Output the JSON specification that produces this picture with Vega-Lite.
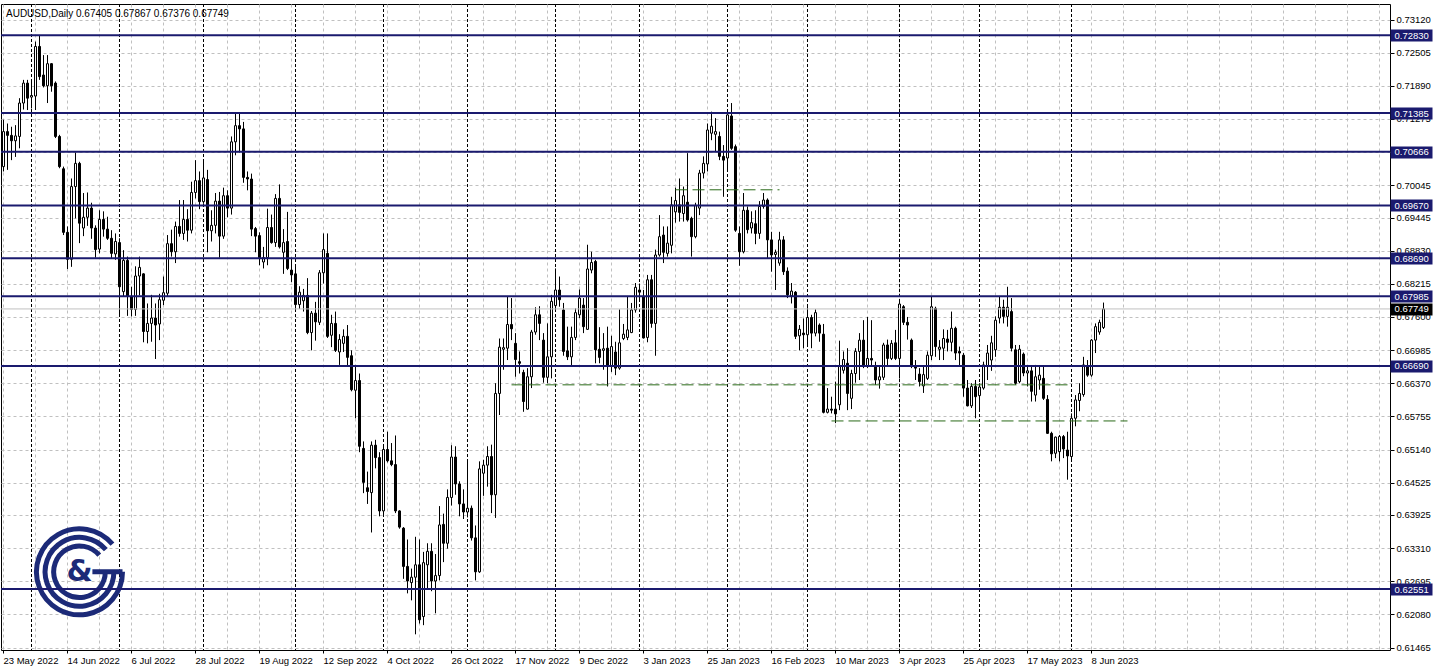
{
  "$schema": "https://vega.github.io/schema/vega-lite/v6.json",
  "width": 1389,
  "height": 646,
  "autosize": {"type": "none"},
  "padding": {"left": 1, "top": 4, "right": 48, "bottom": 21},
  "background": "white",
  "title": {"text": "AUDUSD,Daily  0.67405 0.67867 0.67376 0.67749", "anchor": "start", "frame": "group", "orient": "top", "offset": -15, "dx": 5, "font": "Liberation Sans", "fontSize": 10, "fontWeight": "normal", "color": "black"},
  "config": {
    "view": {"stroke": "black", "strokeWidth": 1},
    "font": "Liberation Sans",
    "axis": {"labelFont": "Liberation Sans", "labelFontSize": 9.5, "labelColor": "black", "titleFont": "Liberation Sans"}
  },
  "datasets": {
    "candles": [
      {"d":"2022-05-23","o":0.7039,"h":0.7126,"l":0.7030,"c":0.7104},
      {"d":"2022-05-24","o":0.7104,"h":0.7119,"l":0.7033,"c":0.7097},
      {"d":"2022-05-25","o":0.7097,"h":0.7113,"l":0.7051,"c":0.7087},
      {"d":"2022-05-26","o":0.7087,"h":0.7116,"l":0.7057,"c":0.7096},
      {"d":"2022-05-27","o":0.7095,"h":0.7166,"l":0.7073,"c":0.7157},
      {"d":"2022-05-30","o":0.7157,"h":0.7200,"l":0.7145,"c":0.7194},
      {"d":"2022-05-31","o":0.7194,"h":0.7200,"l":0.7144,"c":0.7166},
      {"d":"2022-06-01","o":0.7168,"h":0.7197,"l":0.7147,"c":0.7171},
      {"d":"2022-06-02","o":0.7170,"h":0.7271,"l":0.7144,"c":0.7262},
      {"d":"2022-06-03","o":0.7262,"h":0.7283,"l":0.7200,"c":0.7206},
      {"d":"2022-06-06","o":0.7209,"h":0.7246,"l":0.7186,"c":0.7189},
      {"d":"2022-06-07","o":0.7189,"h":0.7246,"l":0.7157,"c":0.7230},
      {"d":"2022-06-08","o":0.7230,"h":0.7231,"l":0.7178,"c":0.7189},
      {"d":"2022-06-09","o":0.7194,"h":0.7197,"l":0.7092,"c":0.7095},
      {"d":"2022-06-10","o":0.7095,"h":0.7098,"l":0.7036,"c":0.7039},
      {"d":"2022-06-13","o":0.7035,"h":0.7039,"l":0.6912,"c":0.6917},
      {"d":"2022-06-14","o":0.6917,"h":0.6928,"l":0.6849,"c":0.6867},
      {"d":"2022-06-15","o":0.6867,"h":0.7017,"l":0.6853,"c":0.7002},
      {"d":"2022-06-16","o":0.7002,"h":0.7065,"l":0.6943,"c":0.7045},
      {"d":"2022-06-17","o":0.7045,"h":0.7048,"l":0.6897,"c":0.6934},
      {"d":"2022-06-20","o":0.6925,"h":0.6990,"l":0.6910,"c":0.6945},
      {"d":"2022-06-21","o":0.6945,"h":0.6991,"l":0.6929,"c":0.6962},
      {"d":"2022-06-22","o":0.6962,"h":0.6972,"l":0.6905,"c":0.6925},
      {"d":"2022-06-23","o":0.6925,"h":0.6930,"l":0.6870,"c":0.6885},
      {"d":"2022-06-24","o":0.6886,"h":0.6958,"l":0.6878,"c":0.6941},
      {"d":"2022-06-27","o":0.6941,"h":0.6956,"l":0.6909,"c":0.6923},
      {"d":"2022-06-28","o":0.6923,"h":0.6946,"l":0.6903,"c":0.6906},
      {"d":"2022-06-29","o":0.6906,"h":0.6921,"l":0.6869,"c":0.6878},
      {"d":"2022-06-30","o":0.6877,"h":0.6915,"l":0.6866,"c":0.6900},
      {"d":"2022-07-01","o":0.6898,"h":0.6906,"l":0.6761,"c":0.6816},
      {"d":"2022-07-04","o":0.6807,"h":0.6884,"l":0.6798,"c":0.6865},
      {"d":"2022-07-05","o":0.6865,"h":0.6872,"l":0.6762,"c":0.6798},
      {"d":"2022-07-06","o":0.6798,"h":0.6816,"l":0.6761,"c":0.6774},
      {"d":"2022-07-07","o":0.6774,"h":0.6854,"l":0.6762,"c":0.6836},
      {"d":"2022-07-08","o":0.6836,"h":0.6872,"l":0.6800,"c":0.6852},
      {"d":"2022-07-11","o":0.6840,"h":0.6841,"l":0.6713,"c":0.6733},
      {"d":"2022-07-12","o":0.6733,"h":0.6785,"l":0.6711,"c":0.6748},
      {"d":"2022-07-13","o":0.6748,"h":0.6801,"l":0.6714,"c":0.6758},
      {"d":"2022-07-14","o":0.6758,"h":0.6785,"l":0.6682,"c":0.6745},
      {"d":"2022-07-15","o":0.6747,"h":0.6803,"l":0.6717,"c":0.6792},
      {"d":"2022-07-18","o":0.6791,"h":0.6835,"l":0.6782,"c":0.6805},
      {"d":"2022-07-19","o":0.6804,"h":0.6912,"l":0.6798,"c":0.6896},
      {"d":"2022-07-20","o":0.6896,"h":0.6922,"l":0.6872,"c":0.6881},
      {"d":"2022-07-21","o":0.6881,"h":0.6937,"l":0.6860,"c":0.6928},
      {"d":"2022-07-22","o":0.6928,"h":0.6977,"l":0.6909,"c":0.6915},
      {"d":"2022-07-25","o":0.6915,"h":0.6977,"l":0.6903,"c":0.6941},
      {"d":"2022-07-26","o":0.6941,"h":0.6960,"l":0.6900,"c":0.6921},
      {"d":"2022-07-27","o":0.6921,"h":0.7011,"l":0.6915,"c":0.6991},
      {"d":"2022-07-28","o":0.6991,"h":0.7051,"l":0.6980,"c":0.7013},
      {"d":"2022-07-29","o":0.7013,"h":0.7030,"l":0.6960,"c":0.6974},
      {"d":"2022-08-01","o":0.6974,"h":0.7048,"l":0.6970,"c":0.7018},
      {"d":"2022-08-02","o":0.7015,"h":0.7033,"l":0.6880,"c":0.6920},
      {"d":"2022-08-03","o":0.6920,"h":0.6958,"l":0.6900,"c":0.6930},
      {"d":"2022-08-04","o":0.6930,"h":0.6990,"l":0.6915,"c":0.6975},
      {"d":"2022-08-05","o":0.6975,"h":0.6992,"l":0.6870,"c":0.6910},
      {"d":"2022-08-08","o":0.6910,"h":0.7000,"l":0.6905,"c":0.6985},
      {"d":"2022-08-09","o":0.6985,"h":0.6995,"l":0.6945,"c":0.6962},
      {"d":"2022-08-10","o":0.6962,"h":0.7095,"l":0.6950,"c":0.7085},
      {"d":"2022-08-11","o":0.7085,"h":0.7137,"l":0.7060,"c":0.7115},
      {"d":"2022-08-12","o":0.7115,"h":0.7138,"l":0.7065,"c":0.7109},
      {"d":"2022-08-15","o":0.7109,"h":0.7122,"l":0.7009,"c":0.7019},
      {"d":"2022-08-16","o":0.7019,"h":0.7030,"l":0.6995,"c":0.7016},
      {"d":"2022-08-17","o":0.7016,"h":0.7026,"l":0.6910,"c":0.6923},
      {"d":"2022-08-18","o":0.6924,"h":0.6927,"l":0.6880,"c":0.6910},
      {"d":"2022-08-19","o":0.6911,"h":0.6917,"l":0.6856,"c":0.6870},
      {"d":"2022-08-22","o":0.6862,"h":0.6890,"l":0.6850,"c":0.6870},
      {"d":"2022-08-23","o":0.6870,"h":0.6961,"l":0.6856,"c":0.6926},
      {"d":"2022-08-24","o":0.6926,"h":0.6950,"l":0.6896,"c":0.6898},
      {"d":"2022-08-25","o":0.6898,"h":0.6988,"l":0.6890,"c":0.6980},
      {"d":"2022-08-26","o":0.6980,"h":0.7006,"l":0.6887,"c":0.6890},
      {"d":"2022-08-29","o":0.6880,"h":0.6923,"l":0.6840,"c":0.6898},
      {"d":"2022-08-30","o":0.6900,"h":0.6955,"l":0.6847,"c":0.6850},
      {"d":"2022-08-31","o":0.6847,"h":0.6870,"l":0.6825,"c":0.6838},
      {"d":"2022-09-01","o":0.6840,"h":0.6853,"l":0.6771,"c":0.6783},
      {"d":"2022-09-02","o":0.6783,"h":0.6817,"l":0.6775,"c":0.6806},
      {"d":"2022-09-05","o":0.6790,"h":0.6812,"l":0.6770,"c":0.6800},
      {"d":"2022-09-06","o":0.6800,"h":0.6832,"l":0.6728,"c":0.6731},
      {"d":"2022-09-07","o":0.6731,"h":0.6771,"l":0.6698,"c":0.6767},
      {"d":"2022-09-08","o":0.6767,"h":0.6788,"l":0.6716,"c":0.6751},
      {"d":"2022-09-09","o":0.6750,"h":0.6847,"l":0.6745,"c":0.6842},
      {"d":"2022-09-12","o":0.6842,"h":0.6915,"l":0.6822,"c":0.6885},
      {"d":"2022-09-13","o":0.6878,"h":0.6915,"l":0.6721,"c":0.6724},
      {"d":"2022-09-14","o":0.6726,"h":0.6764,"l":0.6704,"c":0.6748},
      {"d":"2022-09-15","o":0.6748,"h":0.6770,"l":0.6695,"c":0.6698},
      {"d":"2022-09-16","o":0.6695,"h":0.6728,"l":0.6671,"c":0.6718},
      {"d":"2022-09-19","o":0.6711,"h":0.6737,"l":0.6695,"c":0.6724},
      {"d":"2022-09-20","o":0.6724,"h":0.6745,"l":0.6668,"c":0.6685},
      {"d":"2022-09-21","o":0.6688,"h":0.6698,"l":0.6622,"c":0.6625},
      {"d":"2022-09-22","o":0.6624,"h":0.6671,"l":0.6572,"c":0.6642},
      {"d":"2022-09-23","o":0.6642,"h":0.6655,"l":0.6509,"c":0.6520},
      {"d":"2022-09-26","o":0.6516,"h":0.6529,"l":0.6433,"c":0.6453},
      {"d":"2022-09-27","o":0.6443,"h":0.6473,"l":0.6413,"c":0.6436},
      {"d":"2022-09-28","o":0.6434,"h":0.6529,"l":0.6360,"c":0.6522},
      {"d":"2022-09-29","o":0.6522,"h":0.6532,"l":0.6479,"c":0.6499},
      {"d":"2022-09-30","o":0.6499,"h":0.6509,"l":0.6390,"c":0.6400},
      {"d":"2022-10-03","o":0.6400,"h":0.6522,"l":0.6393,"c":0.6514},
      {"d":"2022-10-04","o":0.6514,"h":0.6547,"l":0.6490,"c":0.6493},
      {"d":"2022-10-05","o":0.6493,"h":0.6526,"l":0.6483,"c":0.6486},
      {"d":"2022-10-06","o":0.6486,"h":0.6540,"l":0.6396,"c":0.6400},
      {"d":"2022-10-07","o":0.6400,"h":0.6401,"l":0.6367,"c":0.6370},
      {"d":"2022-10-10","o":0.6368,"h":0.6370,"l":0.6274,"c":0.6297},
      {"d":"2022-10-11","o":0.6297,"h":0.6347,"l":0.6247,"c":0.6270},
      {"d":"2022-10-12","o":0.6267,"h":0.6293,"l":0.6234,"c":0.6277},
      {"d":"2022-10-13","o":0.6277,"h":0.6352,"l":0.6171,"c":0.6300},
      {"d":"2022-10-14","o":0.6300,"h":0.6347,"l":0.6191,"c":0.6198},
      {"d":"2022-10-17","o":0.6204,"h":0.6324,"l":0.6188,"c":0.6304},
      {"d":"2022-10-18","o":0.6300,"h":0.6340,"l":0.6254,"c":0.6325},
      {"d":"2022-10-19","o":0.6325,"h":0.6340,"l":0.6251,"c":0.6270},
      {"d":"2022-10-20","o":0.6270,"h":0.6320,"l":0.6210,"c":0.6280},
      {"d":"2022-10-21","o":0.6280,"h":0.6409,"l":0.6271,"c":0.6374},
      {"d":"2022-10-24","o":0.6375,"h":0.6395,"l":0.6305,"c":0.6340},
      {"d":"2022-10-25","o":0.6340,"h":0.6440,"l":0.6330,"c":0.6425},
      {"d":"2022-10-26","o":0.6425,"h":0.6522,"l":0.6410,"c":0.6500},
      {"d":"2022-10-27","o":0.6500,"h":0.6520,"l":0.6430,"c":0.6450},
      {"d":"2022-10-28","o":0.6450,"h":0.6455,"l":0.6390,"c":0.6413},
      {"d":"2022-10-31","o":0.6413,"h":0.6440,"l":0.6385,"c":0.6398},
      {"d":"2022-11-01","o":0.6398,"h":0.6492,"l":0.6388,"c":0.6405},
      {"d":"2022-11-02","o":0.6405,"h":0.6410,"l":0.6345,"c":0.6350},
      {"d":"2022-11-03","o":0.6350,"h":0.6373,"l":0.6271,"c":0.6287},
      {"d":"2022-11-04","o":0.6287,"h":0.6492,"l":0.6285,"c":0.6478},
      {"d":"2022-11-07","o":0.6470,"h":0.6495,"l":0.6428,"c":0.6485},
      {"d":"2022-11-08","o":0.6485,"h":0.6520,"l":0.6445,"c":0.6501},
      {"d":"2022-11-09","o":0.6501,"h":0.6523,"l":0.6396,"c":0.6430},
      {"d":"2022-11-10","o":0.6430,"h":0.6637,"l":0.6387,"c":0.6618},
      {"d":"2022-11-11","o":0.6618,"h":0.6720,"l":0.6578,"c":0.6704},
      {"d":"2022-11-14","o":0.6700,"h":0.6720,"l":0.6662,"c":0.6703},
      {"d":"2022-11-15","o":0.6702,"h":0.6797,"l":0.6680,"c":0.6746},
      {"d":"2022-11-16","o":0.6746,"h":0.6795,"l":0.6717,"c":0.6738},
      {"d":"2022-11-17","o":0.6711,"h":0.6730,"l":0.6649,"c":0.6681},
      {"d":"2022-11-18","o":0.6677,"h":0.6696,"l":0.6655,"c":0.6674},
      {"d":"2022-11-21","o":0.6657,"h":0.6662,"l":0.6584,"c":0.6603},
      {"d":"2022-11-22","o":0.6589,"h":0.6665,"l":0.6588,"c":0.6649},
      {"d":"2022-11-23","o":0.6649,"h":0.6736,"l":0.6628,"c":0.6732},
      {"d":"2022-11-24","o":0.6732,"h":0.6778,"l":0.6727,"c":0.6764},
      {"d":"2022-11-25","o":0.6764,"h":0.6780,"l":0.6717,"c":0.6748},
      {"d":"2022-11-28","o":0.6717,"h":0.6730,"l":0.6638,"c":0.6648},
      {"d":"2022-11-29","o":0.6648,"h":0.6748,"l":0.6637,"c":0.6686},
      {"d":"2022-11-30","o":0.6686,"h":0.6801,"l":0.6646,"c":0.6789},
      {"d":"2022-12-01","o":0.6781,"h":0.6850,"l":0.6773,"c":0.6810},
      {"d":"2022-12-02","o":0.6810,"h":0.6835,"l":0.6779,"c":0.6792},
      {"d":"2022-12-05","o":0.6773,"h":0.6786,"l":0.6688,"c":0.6696},
      {"d":"2022-12-06","o":0.6697,"h":0.6742,"l":0.6680,"c":0.6686},
      {"d":"2022-12-07","o":0.6686,"h":0.6742,"l":0.6669,"c":0.6722},
      {"d":"2022-12-08","o":0.6722,"h":0.6776,"l":0.6717,"c":0.6768},
      {"d":"2022-12-09","o":0.6764,"h":0.6811,"l":0.6758,"c":0.6795},
      {"d":"2022-12-12","o":0.6782,"h":0.6795,"l":0.6730,"c":0.6742},
      {"d":"2022-12-13","o":0.6737,"h":0.6894,"l":0.6736,"c":0.6849},
      {"d":"2022-12-14","o":0.6847,"h":0.6881,"l":0.6841,"c":0.6861},
      {"d":"2022-12-15","o":0.6863,"h":0.6866,"l":0.6674,"c":0.6699},
      {"d":"2022-12-16","o":0.6700,"h":0.6741,"l":0.6674,"c":0.6685},
      {"d":"2022-12-19","o":0.6698,"h":0.6730,"l":0.6662,"c":0.6701},
      {"d":"2022-12-20","o":0.6702,"h":0.6742,"l":0.6631,"c":0.6668},
      {"d":"2022-12-21","o":0.6668,"h":0.6725,"l":0.6658,"c":0.6705},
      {"d":"2022-12-22","o":0.6695,"h":0.6714,"l":0.6652,"c":0.6665},
      {"d":"2022-12-23","o":0.6665,"h":0.6774,"l":0.6662,"c":0.6712},
      {"d":"2022-12-27","o":0.6720,"h":0.6747,"l":0.6717,"c":0.6728},
      {"d":"2022-12-28","o":0.6722,"h":0.6798,"l":0.6717,"c":0.6736},
      {"d":"2022-12-29","o":0.6731,"h":0.6786,"l":0.6730,"c":0.6773},
      {"d":"2022-12-30","o":0.6773,"h":0.6823,"l":0.6768,"c":0.6815},
      {"d":"2023-01-02","o":0.6810,"h":0.6822,"l":0.6792,"c":0.6806},
      {"d":"2023-01-03","o":0.6797,"h":0.6810,"l":0.6720,"c":0.6721},
      {"d":"2023-01-04","o":0.6722,"h":0.6838,"l":0.6713,"c":0.6829},
      {"d":"2023-01-05","o":0.6829,"h":0.6838,"l":0.6740,"c":0.6748},
      {"d":"2023-01-06","o":0.6748,"h":0.6885,"l":0.6688,"c":0.6875},
      {"d":"2023-01-09","o":0.6875,"h":0.6949,"l":0.6872,"c":0.6909},
      {"d":"2023-01-10","o":0.6912,"h":0.6928,"l":0.6860,"c":0.6880},
      {"d":"2023-01-11","o":0.6878,"h":0.6928,"l":0.6872,"c":0.6897},
      {"d":"2023-01-12","o":0.6893,"h":0.6983,"l":0.6878,"c":0.6968},
      {"d":"2023-01-13","o":0.6955,"h":0.7000,"l":0.6935,"c":0.6976},
      {"d":"2023-01-16","o":0.6968,"h":0.7017,"l":0.6937,"c":0.6954},
      {"d":"2023-01-17","o":0.6952,"h":0.7002,"l":0.6937,"c":0.6985},
      {"d":"2023-01-18","o":0.6973,"h":0.7064,"l":0.6937,"c":0.6940},
      {"d":"2023-01-19","o":0.6943,"h":0.6946,"l":0.6872,"c":0.6909},
      {"d":"2023-01-20","o":0.6909,"h":0.6972,"l":0.6906,"c":0.6967},
      {"d":"2023-01-23","o":0.6962,"h":0.7033,"l":0.6949,"c":0.7027},
      {"d":"2023-01-24","o":0.7027,"h":0.7058,"l":0.7017,"c":0.7045},
      {"d":"2023-01-25","o":0.7044,"h":0.7119,"l":0.7030,"c":0.7107},
      {"d":"2023-01-26","o":0.7101,"h":0.7141,"l":0.7088,"c":0.7114},
      {"d":"2023-01-27","o":0.7099,"h":0.7129,"l":0.7067,"c":0.7104},
      {"d":"2023-01-30","o":0.7095,"h":0.7104,"l":0.7051,"c":0.7058},
      {"d":"2023-01-31","o":0.7058,"h":0.7079,"l":0.6983,"c":0.7051},
      {"d":"2023-02-01","o":0.7055,"h":0.7144,"l":0.7033,"c":0.7135},
      {"d":"2023-02-02","o":0.7133,"h":0.7157,"l":0.7070,"c":0.7073},
      {"d":"2023-02-03","o":0.7076,"h":0.7080,"l":0.6918,"c":0.6921},
      {"d":"2023-02-06","o":0.6915,"h":0.6928,"l":0.6855,"c":0.6881},
      {"d":"2023-02-07","o":0.6881,"h":0.6990,"l":0.6878,"c":0.6958},
      {"d":"2023-02-08","o":0.6958,"h":0.6965,"l":0.6915,"c":0.6922},
      {"d":"2023-02-09","o":0.6925,"h":0.6956,"l":0.6915,"c":0.6935},
      {"d":"2023-02-10","o":0.6933,"h":0.6958,"l":0.6895,"c":0.6915},
      {"d":"2023-02-13","o":0.6915,"h":0.6975,"l":0.6905,"c":0.6965},
      {"d":"2023-02-14","o":0.6965,"h":0.6990,"l":0.6961,"c":0.6977},
      {"d":"2023-02-15","o":0.6977,"h":0.6980,"l":0.6869,"c":0.6903},
      {"d":"2023-02-16","o":0.6903,"h":0.6918,"l":0.6844,"c":0.6875},
      {"d":"2023-02-17","o":0.6876,"h":0.6885,"l":0.6810,"c":0.6880},
      {"d":"2023-02-20","o":0.6860,"h":0.6918,"l":0.6855,"c":0.6903},
      {"d":"2023-02-21","o":0.6903,"h":0.6910,"l":0.6838,"c":0.6844},
      {"d":"2023-02-22","o":0.6845,"h":0.6852,"l":0.6795,"c":0.6801},
      {"d":"2023-02-23","o":0.6799,"h":0.6823,"l":0.6785,"c":0.6808},
      {"d":"2023-02-24","o":0.6806,"h":0.6808,"l":0.6719,"c":0.6724},
      {"d":"2023-02-27","o":0.6725,"h":0.6745,"l":0.6698,"c":0.6737},
      {"d":"2023-02-28","o":0.6730,"h":0.6757,"l":0.6702,"c":0.6727},
      {"d":"2023-03-01","o":0.6727,"h":0.6782,"l":0.6705,"c":0.6759},
      {"d":"2023-03-02","o":0.6759,"h":0.6764,"l":0.6702,"c":0.6730},
      {"d":"2023-03-03","o":0.6730,"h":0.6774,"l":0.6724,"c":0.6768},
      {"d":"2023-03-06","o":0.6745,"h":0.6748,"l":0.6714,"c":0.6730},
      {"d":"2023-03-07","o":0.6728,"h":0.6747,"l":0.6581,"c":0.6583},
      {"d":"2023-03-08","o":0.6583,"h":0.6628,"l":0.6581,"c":0.6589},
      {"d":"2023-03-09","o":0.6589,"h":0.6612,"l":0.6581,"c":0.6587},
      {"d":"2023-03-10","o":0.6589,"h":0.6640,"l":0.6563,"c":0.6580},
      {"d":"2023-03-13","o":0.6597,"h":0.6716,"l":0.6587,"c":0.6668},
      {"d":"2023-03-14","o":0.6661,"h":0.6696,"l":0.6655,"c":0.6681},
      {"d":"2023-03-15","o":0.6674,"h":0.6702,"l":0.6587,"c":0.6618},
      {"d":"2023-03-16","o":0.6609,"h":0.6662,"l":0.6589,"c":0.6655},
      {"d":"2023-03-17","o":0.6655,"h":0.6702,"l":0.6638,"c":0.6696},
      {"d":"2023-03-20","o":0.6696,"h":0.6730,"l":0.6643,"c":0.6717},
      {"d":"2023-03-21","o":0.6717,"h":0.6754,"l":0.6665,"c":0.6668},
      {"d":"2023-03-22","o":0.6668,"h":0.6760,"l":0.6665,"c":0.6683},
      {"d":"2023-03-23","o":0.6683,"h":0.6754,"l":0.6668,"c":0.6680},
      {"d":"2023-03-24","o":0.6668,"h":0.6677,"l":0.6634,"c":0.6643},
      {"d":"2023-03-27","o":0.6643,"h":0.6668,"l":0.6627,"c":0.6649},
      {"d":"2023-03-28","o":0.6648,"h":0.6712,"l":0.6643,"c":0.6708},
      {"d":"2023-03-29","o":0.6708,"h":0.6718,"l":0.6670,"c":0.6683},
      {"d":"2023-03-30","o":0.6683,"h":0.6717,"l":0.6680,"c":0.6711},
      {"d":"2023-03-31","o":0.6712,"h":0.6736,"l":0.6680,"c":0.6683},
      {"d":"2023-04-03","o":0.6683,"h":0.6792,"l":0.6646,"c":0.6784},
      {"d":"2023-04-04","o":0.6779,"h":0.6782,"l":0.6745,"c":0.6750},
      {"d":"2023-04-05","o":0.6750,"h":0.6760,"l":0.6718,"c":0.6745},
      {"d":"2023-04-06","o":0.6717,"h":0.6720,"l":0.6665,"c":0.6668},
      {"d":"2023-04-07","o":0.6668,"h":0.6680,"l":0.6643,"c":0.6665},
      {"d":"2023-04-10","o":0.6654,"h":0.6665,"l":0.6631,"c":0.6640},
      {"d":"2023-04-11","o":0.6632,"h":0.6668,"l":0.6619,"c":0.6653},
      {"d":"2023-04-12","o":0.6646,"h":0.6696,"l":0.6643,"c":0.6689},
      {"d":"2023-04-13","o":0.6688,"h":0.6798,"l":0.6680,"c":0.6779},
      {"d":"2023-04-14","o":0.6776,"h":0.6779,"l":0.6686,"c":0.6705},
      {"d":"2023-04-17","o":0.6700,"h":0.6717,"l":0.6680,"c":0.6704},
      {"d":"2023-04-18","o":0.6702,"h":0.6737,"l":0.6680,"c":0.6720},
      {"d":"2023-04-19","o":0.6719,"h":0.6736,"l":0.6696,"c":0.6713},
      {"d":"2023-04-20","o":0.6713,"h":0.6770,"l":0.6696,"c":0.6739},
      {"d":"2023-04-21","o":0.6739,"h":0.6742,"l":0.6680,"c":0.6693},
      {"d":"2023-04-24","o":0.6696,"h":0.6705,"l":0.6668,"c":0.6693},
      {"d":"2023-04-25","o":0.6689,"h":0.6693,"l":0.6612,"c":0.6628},
      {"d":"2023-04-26","o":0.6628,"h":0.6643,"l":0.6594,"c":0.6595},
      {"d":"2023-04-27","o":0.6595,"h":0.6637,"l":0.6591,"c":0.6631},
      {"d":"2023-04-28","o":0.6631,"h":0.6643,"l":0.6572,"c":0.6612},
      {"d":"2023-05-01","o":0.6614,"h":0.6637,"l":0.6585,"c":0.6630},
      {"d":"2023-05-02","o":0.6628,"h":0.6677,"l":0.6625,"c":0.6671},
      {"d":"2023-05-03","o":0.6668,"h":0.6708,"l":0.6643,"c":0.6693},
      {"d":"2023-05-04","o":0.6680,"h":0.6725,"l":0.6660,"c":0.6712},
      {"d":"2023-05-05","o":0.6699,"h":0.6761,"l":0.6686,"c":0.6754},
      {"d":"2023-05-08","o":0.6758,"h":0.6798,"l":0.6748,"c":0.6778},
      {"d":"2023-05-09","o":0.6778,"h":0.6792,"l":0.6748,"c":0.6761},
      {"d":"2023-05-10","o":0.6761,"h":0.6816,"l":0.6742,"c":0.6778},
      {"d":"2023-05-11","o":0.6770,"h":0.6795,"l":0.6696,"c":0.6702},
      {"d":"2023-05-12","o":0.6699,"h":0.6708,"l":0.6634,"c":0.6637},
      {"d":"2023-05-15","o":0.6640,"h":0.6708,"l":0.6637,"c":0.6700},
      {"d":"2023-05-16","o":0.6691,"h":0.6694,"l":0.6650,"c":0.6656},
      {"d":"2023-05-17","o":0.6656,"h":0.6669,"l":0.6631,"c":0.6660},
      {"d":"2023-05-18","o":0.6660,"h":0.6669,"l":0.6603,"c":0.6622},
      {"d":"2023-05-19","o":0.6615,"h":0.6671,"l":0.6603,"c":0.6649},
      {"d":"2023-05-22","o":0.6643,"h":0.6669,"l":0.6625,"c":0.6652},
      {"d":"2023-05-23","o":0.6646,"h":0.6669,"l":0.6606,"c":0.6609},
      {"d":"2023-05-24","o":0.6607,"h":0.6615,"l":0.6543,"c":0.6544},
      {"d":"2023-05-25","o":0.6544,"h":0.6547,"l":0.6492,"c":0.6506},
      {"d":"2023-05-26","o":0.6507,"h":0.6538,"l":0.6498,"c":0.6537},
      {"d":"2023-05-29","o":0.6510,"h":0.6541,"l":0.6492,"c":0.6538},
      {"d":"2023-05-30","o":0.6538,"h":0.6541,"l":0.6498,"c":0.6515},
      {"d":"2023-05-31","o":0.6513,"h":0.6547,"l":0.6458,"c":0.6502},
      {"d":"2023-06-01","o":0.6501,"h":0.6581,"l":0.6495,"c":0.6572},
      {"d":"2023-06-02","o":0.6572,"h":0.6615,"l":0.6557,"c":0.6606},
      {"d":"2023-06-05","o":0.6605,"h":0.6637,"l":0.6585,"c":0.6618},
      {"d":"2023-06-06","o":0.6616,"h":0.6686,"l":0.6612,"c":0.6671},
      {"d":"2023-06-07","o":0.6669,"h":0.6680,"l":0.6649,"c":0.6652},
      {"d":"2023-06-08","o":0.6652,"h":0.6719,"l":0.6649,"c":0.6717},
      {"d":"2023-06-09","o":0.6717,"h":0.6748,"l":0.6693,"c":0.6742},
      {"d":"2023-06-12","o":0.6732,"h":0.6755,"l":0.6727,"c":0.6750},
      {"d":"2023-06-13","o":0.67405,"h":0.67867,"l":0.67376,"c":0.67749}
    ],
    "levels": [{"p":0.72830},{"p":0.71385},{"p":0.70666},{"p":0.69670},{"p":0.68690},{"p":0.67985},{"p":0.66690},{"p":0.62551}],
    "bid": [{"p":0.67749}],
    "months": [{"d":"2022-06-01"},{"d":"2022-07-01"},{"d":"2022-08-01"},{"d":"2022-09-01"},{"d":"2022-10-03"},{"d":"2022-11-01"},{"d":"2022-12-01"},{"d":"2023-01-02"},{"d":"2023-02-01"},{"d":"2023-03-01"},{"d":"2023-04-03"},{"d":"2023-05-01"},{"d":"2023-06-01"}],
    "trend": [
      {"d1":"2022-11-16","d2":"2023-06-01","p":0.6634},
      {"d1":"2023-03-09","d2":"2023-06-21","p":0.6567},
      {"d1":"2023-01-13","d2":"2023-02-20","p":0.6996}
    ],
    "logo": [{"name":"G&"}]
  },
  "resolve": {"scale": {"y": "shared", "x": "shared"}, "axis": {"y": "independent"}},
  "layer": [
    {
      "data": {"name": "candles"},
      "mark": {"type": "rule", "color": "black", "strokeWidth": 1},
      "encoding": {
        "x": {
          "field": "d", "type": "ordinal",
          "scale": {"type": "band", "paddingInner": 0, "paddingOuter": 0.125,
            "domain": {"unionWith": ["2023-06-14","2023-06-15","2023-06-16","2023-06-19","2023-06-20","2023-06-21","2023-06-22","2023-06-23","2023-06-26","2023-06-27","2023-06-28","2023-06-29","2023-06-30","2023-07-03","2023-07-04","2023-07-05","2023-07-06","2023-07-07","2023-07-10","2023-07-11","2023-07-12","2023-07-13","2023-07-14","2023-07-17","2023-07-18","2023-07-19","2023-07-20","2023-07-21","2023-07-24","2023-07-25","2023-07-26","2023-07-27","2023-07-28","2023-07-31","2023-08-01","2023-08-02","2023-08-03","2023-08-04","2023-08-07","2023-08-08","2023-08-09","2023-08-10","2023-08-11","2023-08-14","2023-08-15","2023-08-16","2023-08-17","2023-08-18","2023-08-21","2023-08-22","2023-08-23","2023-08-24","2023-08-25","2023-08-28","2023-08-29","2023-08-30","2023-08-31","2023-09-01","2023-09-04","2023-09-05","2023-09-06","2023-09-07","2023-09-08","2023-09-11","2023-09-12","2023-09-13","2023-09-14","2023-09-15","2023-09-18","2023-09-19","2023-09-20"]}},
          "axis": {
            "title": null, "orient": "bottom", "domain": false, "grid": true, "gridColor": "#c0c0c0", "gridDash": [3, 3],
            "labelAngle": 0, "labelAlign": "left", "labelBaseline": "top", "tickSize": 3, "tickColor": "black", "labelPadding": 2,
            "tickOpacity": {"condition": {"test": "indexof('2022-05-23,2022-06-14,2022-07-06,2022-07-28,2022-08-19,2022-09-12,2022-10-04,2022-10-26,2022-11-17,2022-12-09,2023-01-03,2023-01-25,2023-02-16,2023-03-10,2023-04-03,2023-04-25,2023-05-17,2023-06-08', datum.value) < 0", "value": 0}, "value": 1},
            "values": ["2022-05-23","2022-06-02","2022-06-14","2022-06-24","2022-07-06","2022-07-18","2022-07-28","2022-08-09","2022-08-19","2022-08-31","2022-09-12","2022-09-22","2022-10-04","2022-10-14","2022-10-26","2022-11-07","2022-11-17","2022-11-29","2022-12-09","2022-12-21","2023-01-03","2023-01-13","2023-01-25","2023-02-06","2023-02-16","2023-02-28","2023-03-10","2023-03-22","2023-04-03","2023-04-13","2023-04-25","2023-05-05","2023-05-17","2023-05-29","2023-06-08","2023-06-20","2023-06-30","2023-07-12","2023-07-24","2023-08-03","2023-08-15","2023-08-25","2023-09-06","2023-09-18"],
            "labelExpr": "datum.value == '2022-05-23' ? '23 May 2022' : datum.value == '2022-06-14' ? '14 Jun 2022' : datum.value == '2022-07-06' ? '6 Jul 2022' : datum.value == '2022-07-28' ? '28 Jul 2022' : datum.value == '2022-08-19' ? '19 Aug 2022' : datum.value == '2022-09-12' ? '12 Sep 2022' : datum.value == '2022-10-04' ? '4 Oct 2022' : datum.value == '2022-10-26' ? '26 Oct 2022' : datum.value == '2022-11-17' ? '17 Nov 2022' : datum.value == '2022-12-09' ? '9 Dec 2022' : datum.value == '2023-01-03' ? '3 Jan 2023' : datum.value == '2023-01-25' ? '25 Jan 2023' : datum.value == '2023-02-16' ? '16 Feb 2023' : datum.value == '2023-03-10' ? '10 Mar 2023' : datum.value == '2023-04-03' ? '3 Apr 2023' : datum.value == '2023-04-25' ? '25 Apr 2023' : datum.value == '2023-05-17' ? '17 May 2023' : datum.value == '2023-06-08' ? '8 Jun 2023' : ''"
          }
        },
        "y": {
          "field": "l", "type": "quantitative",
          "scale": {"domain": [0.61419, 0.73408], "nice": false, "zero": false},
          "axis": {
            "title": null, "orient": "right", "domain": false, "grid": true, "gridColor": "#c0c0c0", "gridDash": [3, 3], "gridWidth": 1,
            "tickSize": 4, "tickColor": "black", "labelPadding": 2, "labelBaseline": "middle", "format": ".5f", "zindex": 0,
            "values": [0.73120, 0.72505, 0.71890, 0.71275, 0.70660, 0.70045, 0.69445, 0.68830, 0.68215, 0.67600, 0.66985, 0.66370, 0.65755, 0.65140, 0.64525, 0.63925, 0.63310, 0.62695, 0.62080, 0.61465]
          }
        },
        "y2": {"field": "h"}
      }
    },
    {
      "data": {"name": "months"},
      "mark": {"type": "rule", "color": "black", "strokeWidth": 1, "strokeDash": [3, 2]},
      "encoding": {
        "x": {"field": "d", "type": "ordinal"}
      }
    },
    {
      "data": {"name": "candles"},
      "mark": {"type": "bar", "width": 2, "stroke": "black", "strokeWidth": 1},
      "encoding": {
        "x": {"field": "d", "type": "ordinal"},
        "y": {"field": "o", "type": "quantitative", "axis": null},
        "y2": {"field": "c"},
        "fill": {"condition": {"test": "datum.c >= datum.o", "value": "white"}, "value": "black"}
      }
    },
    {
      "data": {"name": "trend"},
      "mark": {"type": "rule", "color": "#2a6a18", "strokeWidth": 1, "strokeDash": [12, 5]},
      "encoding": {
        "x": {"field": "d1", "type": "ordinal"},
        "x2": {"field": "d2"},
        "y": {"field": "p", "type": "quantitative", "axis": null}
      }
    },
    {
      "data": {"name": "logo"},
      "mark": {"type": "point", "filled": false, "stroke": "#1c2a78", "strokeWidth": 5, "opacity": 1,
        "shape": "M 0.766 -0.643 A 1 1 0 1 0 1 0 M 0.613 -0.514 A 0.8 0.8 0 1 0 0.8 0 M 0.46 -0.386 A 0.6 0.6 0 1 0 0.6 0 M 0.3 0 L 1 0", "size": 7400},
      "encoding": {
        "x": {"datum": "2022-06-17", "type": "ordinal"},
        "y": {"datum": 0.6287, "type": "quantitative", "axis": null}
      }
    },
    {
      "data": {"name": "logo"},
      "mark": {"type": "text", "text": "&", "font": "DejaVu Sans", "fontSize": 30, "fontWeight": "bold", "color": "#1c2a78", "align": "center", "baseline": "middle"},
      "encoding": {
        "x": {"datum": "2022-06-17", "type": "ordinal"},
        "y": {"datum": 0.6287, "type": "quantitative", "axis": null}
      }
    },
    {
      "data": {"name": "bid"},
      "mark": {"type": "rule", "color": "#c0c0c0", "strokeWidth": 1},
      "encoding": {
        "y": {"field": "p", "type": "quantitative",
          "axis": {"title": null, "orient": "right", "domain": false, "grid": false, "values": [0.67749], "format": ".5f",
            "tickSize": 42, "tickWidth": 12, "tickColor": "black", "labelColor": "white", "labelPadding": -38, "labelBaseline": "middle", "zindex": 2}}
      }
    },
    {
      "data": {"name": "levels"},
      "mark": {"type": "rule", "color": "#1a1a6e", "strokeWidth": 2},
      "encoding": {
        "y": {"field": "p", "type": "quantitative",
          "axis": {"title": null, "orient": "right", "domain": false, "grid": false, "values": [0.72830, 0.71385, 0.70666, 0.69670, 0.68690, 0.67985, 0.66690, 0.62551], "format": ".5f",
            "tickSize": 42, "tickWidth": 12, "tickColor": "#1a1a6e", "labelColor": "white", "labelPadding": -38, "labelBaseline": "middle", "zindex": 1}}
      }
    }
  ]
}
